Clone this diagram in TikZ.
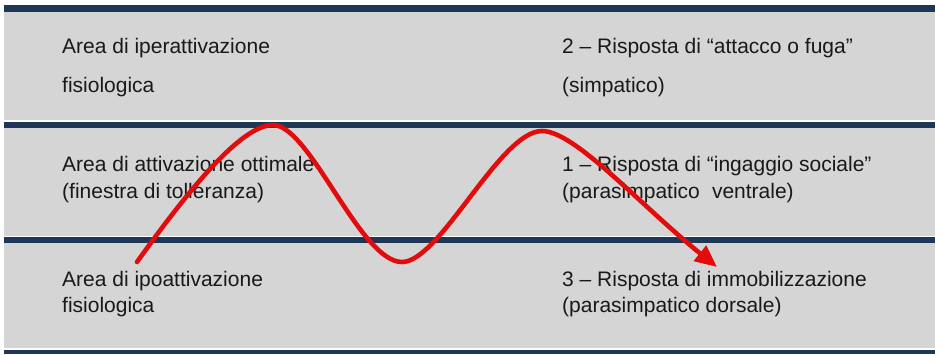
\documentclass[tikz,border=0pt]{standalone}
\usepackage{fontspec}
\setmainfont{Liberation Sans}
\usetikzlibrary{arrows.meta}
\definecolor{bandgray}{RGB}{213,213,213}
\definecolor{barnavy}{RGB}{31,55,86}
\definecolor{wavered}{RGB}{226,12,12}
\definecolor{txt}{RGB}{25,25,25}
\tikzset{
  lbl/.style={anchor=base west, inner sep=0pt, text=txt, font=\fontsize{21}{25}\selectfont},
  bar/.style={fill=barnavy, draw=none},
  wave/.style={draw=wavered, line width=4.6pt, line cap=round,
    -{Triangle[length=22pt,width=19pt]}}
}
\begin{document}
\begin{tikzpicture}[x=1pt,y=-1pt]
\useasboundingbox (0,0) rectangle (935,354);
\fill[white] (0,0) rectangle (935,354);
\fill[bandgray] (4,5) rectangle (935,354);
% bars
\fill[bar] (4,5) rectangle (935,12);
\fill[white] (4,120.3) rectangle (935,121.5);
\fill[bar] (4,121.5) rectangle (935,128);
\fill[white] (4,235.5) rectangle (935,236.8);
\fill[bar] (4,236.8) rectangle (935,243);
\fill[white] (4,348.3) rectangle (935,349.5);
\fill[bar] (4,349.5) rectangle (935,354);
% texts
\node[lbl] (a1) at (62,53) {Area di iperattivazione};
\node[lbl] (a2) at (62,92) {fisiologica};
\node[lbl] (b1) at (562,53) {2 – Risposta di “attacco o fuga”};
\node[lbl] (b2) at (562,92) {(simpatico)};
\node[lbl] (c1) at (62,171) {Area di attivazione ottimale};
\node[lbl] (c2) at (62,198) {(finestra di tolleranza)};
\node[lbl] (d1) at (562,171) {1 – Risposta di “ingaggio sociale”};
\node[lbl] (d2) at (562,198) {(parasimpatico\hspace{0.3em} ventrale)};
\node[lbl] (e1) at (62,286) {Area di ipoattivazione};
\node[lbl] (e2) at (62,312) {fisiologica};
\node[lbl] (f1) at (562,286) {3 – Risposta di immobilizzazione};
\node[lbl] (f2) at (562,312) {(parasimpatico dorsale)};
% wave
\coordinate (s) at (137,262);
\coordinate (p1) at (273,125);
\coordinate (t) at (402,262);
\coordinate (p2) at (542,131);
\coordinate (e) at (717,267);
\draw[wave] (s) .. controls (185,195) and (240,125) .. (p1)
  .. controls (310,125) and (360,262) .. (t)
  .. controls (440,262) and (500,131) .. (p2)
  .. controls (575,131) and (640,205) .. (e);
\end{tikzpicture}
\end{document}
